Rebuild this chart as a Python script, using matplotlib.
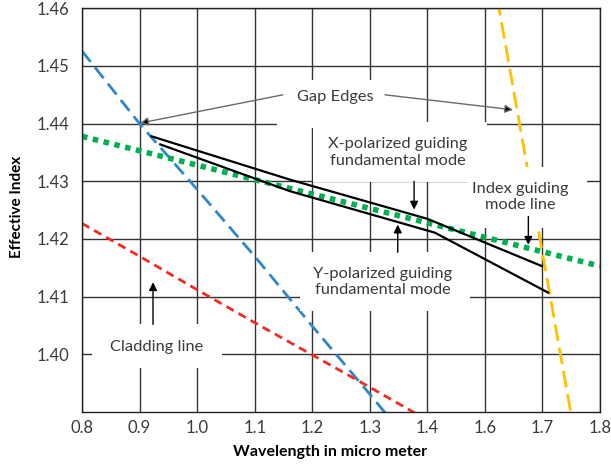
import matplotlib
matplotlib.use("Agg")
import matplotlib.pyplot as plt
from matplotlib.patches import Rectangle

plt.rcParams['font.family'] = ['Lato', 'DejaVu Sans']

# ---------------- data (x given in category positions 0..9) ----------------
categories = ['0.8', '0.9', '1.0', '1.1', '1.2', '1.3', '1.4', '1.6', '1.7', '1.8']
y_ticks = [1.40, 1.41, 1.42, 1.43, 1.44, 1.45, 1.46]

blue_x = [0, 1, 2, 3, 4, 5, 6]
blue_y = [1.4526, 1.4400, 1.4286, 1.4170, 1.4049, 1.3931, 1.3810]

red_x = [0, 1, 2, 3, 4, 5, 6]
red_y = [1.4227, 1.4170, 1.4112, 1.4055, 1.3999, 1.3943, 1.3886]

green_x = [0, 1, 2, 3, 4, 5, 6, 7, 8, 9]
green_y = [1.4378, 1.4353, 1.4328, 1.4303, 1.4278, 1.4253, 1.4228, 1.4203, 1.4178, 1.4153]

orange_x = [7, 8, 9]
orange_y = [1.4738, 1.4176, 1.3613]

xpol_x = [1.21, 3.61, 6.00, 7.99]
xpol_y = [1.4378, 1.4303, 1.4235, 1.4153]

ypol_x = [1.36, 3.61, 6.13, 8.10]
ypol_y = [1.4364, 1.4283, 1.4211, 1.4107]

# ---------------- figure ----------------
fig = plt.figure(figsize=(6.11, 4.69), dpi=100)
ax = fig.add_axes([0.1342, 0.1215, 0.8478, 0.8608])
ax.set_xlim(0, 9)
ax.set_ylim(1.39, 1.46)

grid_c = '#333333'
ax.set_xticks(range(len(categories)))
ax.set_xticklabels(categories)
ax.set_yticks(y_ticks)
ax.set_yticklabels([f'{v:.2f}' for v in y_ticks])
ax.tick_params(axis='both', length=0, labelsize=12, colors='#3a3a3a')
ax.tick_params(axis='y', pad=9)
ax.tick_params(axis='x', pad=6)
ax.grid(True, color=grid_c, lw=1.0, zorder=0)
ax.set_axisbelow(True)
for s in ax.spines.values():
    s.set_color('#222222')
    s.set_linewidth(1.0)

ax.plot(blue_x, blue_y, color='#2f86c8', lw=2, dashes=(5, 2.5), zorder=2)
ax.plot(red_x, red_y, color='#f52a1f', lw=2, dashes=(3, 2), zorder=2)
ax.plot(green_x, green_y, color='#00b050', lw=4, dashes=(1, 1), zorder=2)
ax.plot(orange_x, orange_y, color='#ffc000', lw=2, dashes=(6, 2.5), zorder=2)
ax.plot(xpol_x, xpol_y, color='black', lw=1.6, zorder=2)
ax.plot(ypol_x, ypol_y, color='black', lw=1.6, zorder=2)

# white label boxes that hide the grid (layout only)
boxes = [
    (3.388, 1.43929, 5.699 - 3.388, 1.44760 - 1.43929),
    (4.014, 1.42986, 7.037 - 4.014, 1.44033 - 1.42986),
    (6.707, 1.42182, 8.775 - 6.707, 1.43254 - 1.42182),
    (3.788, 1.40746, 6.742 - 3.788, 1.41767 - 1.40746),
    (0.174, 1.39760, 2.433 - 0.174, 1.40521 - 1.39760),
]
for (bx, by, bw, bh) in boxes:
    ax.add_patch(Rectangle((bx, by), bw, bh, facecolor='white', edgecolor='none', zorder=3))

txt_c = '#3a3a3a'
fs = 11.8
ax.text(4.40, 1.4446, 'Gap Edges', ha='center', va='center', fontsize=fs, color=txt_c, zorder=5)
ax.text(5.49, 1.4350, 'X-polarized guiding\nfundamental mode', ha='center', va='center',
        fontsize=fs, color=txt_c, zorder=5, linespacing=1.2)
ax.text(7.62, 1.4273, 'Index guiding\nmode line', ha='center', va='center',
        fontsize=fs, color=txt_c, zorder=5, linespacing=1.2)
ax.text(5.22, 1.4126, 'Y-polarized guiding\nfundamental mode', ha='center', va='center',
        fontsize=fs, color=txt_c, zorder=5, linespacing=1.2)
ax.text(1.30, 1.4012, 'Cladding line', ha='center', va='center', fontsize=fs, color=txt_c, zorder=5)

def arrow(x0, y0, x1, y1, col='black'):
    ax.annotate('', xy=(x1, y1), xytext=(x0, y0),
                arrowprops=dict(arrowstyle='-|>', color=col, lw=1.0, mutation_scale=12,
                                shrinkA=0, shrinkB=0, fc='black'),
                zorder=6)

arrow(3.49, 1.4450, 1.01, 1.4401, '#6a6a6a')
arrow(5.265, 1.4450, 7.49, 1.4424, '#6a6a6a')
arrow(5.77, 1.4300, 5.77, 1.4251)
arrow(5.486, 1.4177, 5.486, 1.4225)
arrow(7.755, 1.4239, 7.755, 1.4190)
arrow(1.234, 1.4052, 1.234, 1.4125)

fig.text(17 / 611, 1 - 207 / 469, 'Effective Index', rotation=90, ha='center', va='center',
         fontsize=11, fontweight='bold', color='black')
fig.text(330 / 611, 1 - 452 / 469, 'Wavelength in micro meter', ha='center', va='center',
         fontsize=11.5, fontweight='bold', color='black')

fig.savefig('out.png', dpi=100)
